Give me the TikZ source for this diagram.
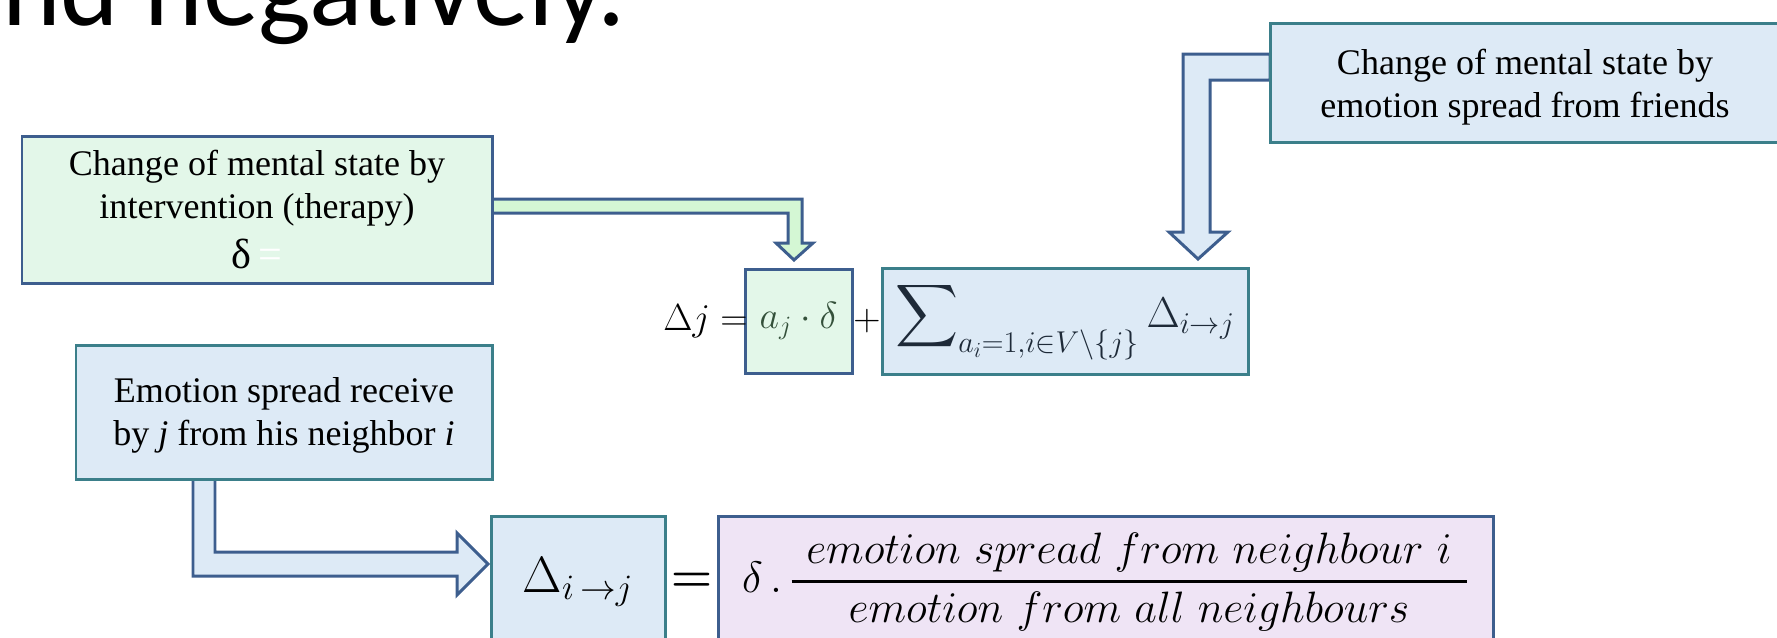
\RequirePackage{fix-cm}
\documentclass[tikz,border=0pt]{standalone}
\usepackage{amsmath}
\usepackage{fontspec}
\usepackage{xcolor}
\usepackage{tikz}
\usetikzlibrary{calc, positioning, backgrounds}
\newfontfamily\slidefont{Carlito}
\newfontfamily\boxfont{Liberation Serif}
\newlength\pxl
\setlength\pxl{0.02cm}
\definecolor{cGrFill}{HTML}{E3F7E9}
\definecolor{cGrArrow}{HTML}{D4F7D4}
\definecolor{cBlFill}{HTML}{DDEAF6}
\definecolor{cPuFill}{HTML}{EFE4F5}
\definecolor{cDkLine}{HTML}{3D5E8E}
\definecolor{cTeLine}{HTML}{3B7F8A}
\definecolor{cGrInk}{HTML}{34503A}
\definecolor{cBlInk}{HTML}{1E2A38}

\begin{document}
\begin{tikzpicture}[x=1\pxl, y=-1\pxl,
  txtbox/.style={line width=1.7pt, outer sep=0pt, inner sep=0pt, align=center,
                 font=\boxfont\fontsize{20.5}{24.5}\selectfont},
  mathbox/.style={line width=1.7pt, outer sep=0pt, inner sep=0pt},
  eqfont/.style={font=\fontsize{21.5}{24}\selectfont},
  blockarrow/.style={draw=cDkLine, line width=1.7pt, line join=miter, fill=cBlFill},
  greenarrow/.style={blockarrow, fill=cGrArrow}
]
\useasboundingbox (0,0) rectangle (1777,637);
\clip (0,0) rectangle (1777,637);

\node[anchor=base west, inner sep=0pt, font=\slidefont\fontsize{63.5}{70}\selectfont] (title) at (2,25) {nd negatively.};

\node[txtbox, fill=cGrFill, draw=cDkLine, minimum width=470\pxl, minimum height=147\pxl] (therapy) at (257,209.5)
  {Change of mental state by\\intervention (therapy)\\[4pt]{\fontsize{24}{26}\selectfont δ\,\textcolor{white}{=}}};
\node[txtbox, fill=cBlFill, draw=cTeLine, minimum width=510\pxl, minimum height=119\pxl] (friends) at (1525,82.5)
  {\rule{0pt}{20pt}Change of mental state by\\emotion spread from friends};
\node[txtbox, fill=cBlFill, draw=cTeLine, minimum width=416\pxl, minimum height=134\pxl] (neighbor) at (284,412)
  {\rule{0pt}{18.5pt}Emotion spread receive\\by \textit{j} from his neighbor \textit{i}};

\node[mathbox, eqfont, fill=cGrFill, draw=cDkLine, text=cGrInk, minimum width=107\pxl, minimum height=104\pxl] (term1) at (798.5,321) {$a_j\cdot\delta$};
\node[mathbox, font=\fontsize{24.5}{28}\selectfont, fill=cBlFill, draw=cTeLine, text=cBlInk, minimum width=366\pxl, minimum height=106\pxl, right=30\pxl of term1] (sumbox)
  {$\displaystyle\sum\nolimits_{a_i=1,i\in V\setminus\{j\}}\Delta_{i\to j}$};
\node[inner sep=0pt, eqfont, left=-3\pxl of term1] (lhs) {$\Delta j =$};
\node[inner sep=0pt, eqfont] (plus) at ($(term1.east)!0.5!(sumbox.west)$) {$+$};

\node[mathbox, fill=cBlFill, draw=cTeLine, minimum width=174\pxl, minimum height=132\pxl, font=\fontsize{29}{32}\selectfont] (dbox) at (578,582) {$\Delta_{i\,\to j}$};
\node[mathbox, fill=cPuFill, draw=cDkLine, minimum width=775\pxl, minimum height=132\pxl, font=\fontsize{25}{30}\selectfont, right=53\pxl of dbox] (ratio)
  {$\delta\,.\,\genfrac{}{}{1.6pt}{0}{\mkern6mu emotion\ spread\ from\ neighbour\ i\mkern6mu}{emotion\ from\ all\ neighbours}$};
\node[inner sep=0pt, font=\fontsize{27}{30}\selectfont] (eq) at ($(dbox.east)!0.5!(ratio.west)$) {$\boldsymbol{=}$};

\coordinate (gtip) at ([xshift=-4.5\pxl,yshift=9\pxl]term1.north);
\coordinate (ftip) at ([xshift=133\pxl,yshift=9\pxl]sumbox.north);
\coordinate (ntip) at ([xshift=-3\pxl,yshift=18\pxl]dbox.west);

\begin{scope}[on background layer]
\draw[greenarrow] ([yshift=10.5\pxl]therapy.east) -| ($(gtip)+(8,-17)$) -- ++(11,0) -- (gtip) -- ++(-18,-17) -- ++(12,0) |- ([yshift=-3.5\pxl]therapy.east) -- cycle;
\draw[blockarrow] ([yshift=28.5\pxl]friends.west) -| ($(ftip)+(-15,-27)$) -- ++(-14,0) -- (ftip) -- ++(30,-27) -- ++(-18,0) |- ([yshift=2.5\pxl]friends.west) -- cycle;
\draw[blockarrow] ([xshift=-91\pxl]neighbor.south) |- ($(ntip)+(-31,12)$) -- ++(0,19) -- (ntip) -- ++(-31,-31) -- ++(0,19) -| ([xshift=-69\pxl]neighbor.south) -- cycle;
\end{scope}
\end{tikzpicture}
\end{document}
